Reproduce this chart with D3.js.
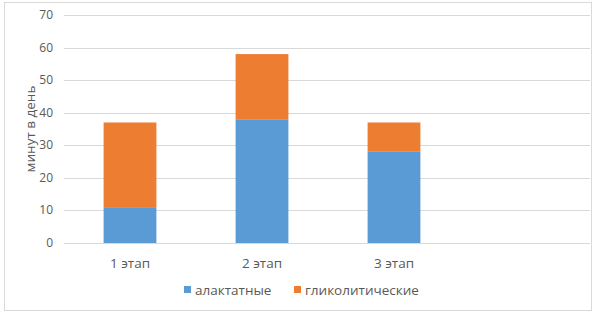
<!DOCTYPE html>
<html>
<head>
<meta charset="utf-8">
<script src="https://cdn.jsdelivr.net/npm/d3@7"></script>
<style>
  body { margin: 0; background: #fff; }
  svg { display: block; font-family: "Open Sans", "Noto Sans", sans-serif; }
</style>
</head>
<body>
<svg id="chart" width="596" height="314"></svg>
<script>
// categories (the 4th slot is empty in the original)
const categories = ['1 этап', '2 этап', '3 этап', ''];
const seriesNames = ['алактатные', 'гликолитические'];
const alactic = [11, 38, 28, null];
const glycolytic = [26, 20, 9, null];
const yTicks = [0, 10, 20, 30, 40, 50, 60, 70];
const colors = ['#5B9BD5', '#ED7D31'];

const svg = d3.select('#chart');
const W = 596, H = 314;
const m = { left: 64, right: 4, top: 15, bottom: 71 };

// outer frame
svg.append('rect')
    .attr('x', 4.5).attr('y', 2.5)
    .attr('width', W - 9).attr('height', H - 6)
    .attr('fill', '#fff').attr('stroke', '#d9d9d9');

const x = d3.scaleBand().domain(categories).range([m.left, W - m.right]).paddingInner(0).paddingOuter(0);
const y = d3.scaleLinear().domain([0, 70]).range([H - m.bottom, m.top]);

// gridlines
svg.append('g')
  .selectAll('line')
  .data(yTicks)
  .join('line')
    .attr('x1', m.left).attr('x2', W - m.right - 2)
    .attr('y1', d => Math.round(y(d)) + 0.5)
    .attr('y2', d => Math.round(y(d)) + 0.5)
    .attr('stroke', '#d9d9d9');

// y tick labels
svg.append('g')
  .selectAll('text')
  .data(yTicks)
  .join('text')
    .attr('x', 53).attr('y', d => y(d) + 4)
    .attr('text-anchor', 'end')
    .attr('font-size', '12px')
    .attr('fill', '#595959')
    .text(d => d);

// stacked bars
const rows = categories.map((c, i) => ({ cat: c, a: alactic[i], g: glycolytic[i] }))
  .filter(r => r.a != null);
const stack = d3.stack().keys(['a', 'g'])(rows);
const barW = x.bandwidth() / 2.5;

svg.append('g')
  .selectAll('g')
  .data(stack)
  .join('g')
    .attr('fill', (d, i) => colors[i])
  .selectAll('rect')
  .data(d => d)
  .join('rect')
    .attr('x', d => x(d.data.cat) + (x.bandwidth() - barW) / 2)
    .attr('width', barW)
    .attr('y', d => y(d[1]))
    .attr('height', d => y(d[0]) - y(d[1]));

// category labels
svg.append('g')
  .selectAll('text')
  .data(categories)
  .join('text')
    .attr('x', d => x(d) + x.bandwidth() / 2)
    .attr('y', 268)
    .attr('text-anchor', 'middle')
    .attr('font-size', '13.5px')
    .attr('fill', '#595959')
    .text(d => d);

// y axis title
svg.append('text')
    .attr('transform', `translate(35,${(y(0) + y(70)) / 2}) rotate(-90)`)
    .attr('text-anchor', 'middle')
    .attr('font-size', '13.5px')
    .attr('fill', '#595959')
    .text('минут в день');

// legend
const legend = svg.append('g');
const legendX = [184, 294];
seriesNames.forEach((name, i) => {
  legend.append('rect')
      .attr('x', legendX[i]).attr('y', 286)
      .attr('width', 7).attr('height', 7)
      .attr('fill', colors[i]);
  legend.append('text')
      .attr('x', legendX[i] + 11).attr('y', 294.5)
      .attr('font-size', '13.5px')
      .attr('fill', '#595959')
      .text(name);
});
</script>
</body>
</html>
